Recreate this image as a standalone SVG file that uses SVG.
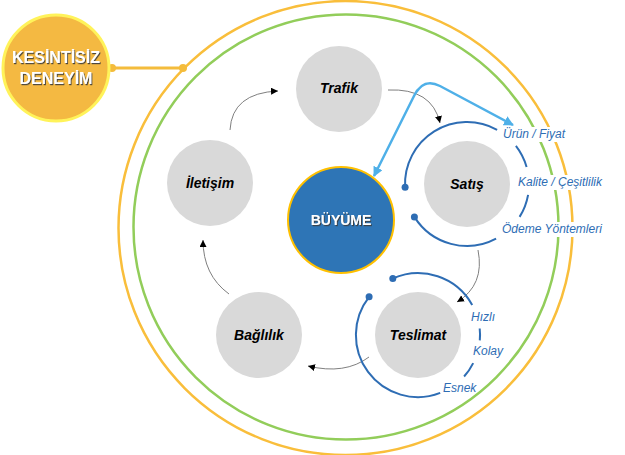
<svg xmlns="http://www.w3.org/2000/svg" width="625" height="455" viewBox="0 0 625 455">
<defs>
<style>
.ring{fill:none;stroke-width:2.5}
.node{fill:#D9D9D9}
.lbl{font-family:"Liberation Sans",Arial,sans-serif;font-weight:bold;font-style:italic;font-size:14px;fill:#000;text-anchor:middle}
.wlbl{font-family:"Liberation Sans",Arial,sans-serif;font-weight:bold;fill:#fff;text-anchor:middle;filter:url(#sh)}
.flow{fill:none;stroke:#7F7F7F;stroke-width:1;marker-end:url(#ah)}
.barc{fill:none;stroke:#2E6DB4;stroke-width:2}
.dot{fill:#2E6DB4}
.bg{fill:#fff}
.blbl{font-family:"Liberation Sans",Arial,sans-serif;font-style:italic;font-size:12px;fill:#2E6DB4}
</style>
<marker id="ah" markerUnits="userSpaceOnUse" markerWidth="9" markerHeight="9" refX="7" refY="3.5" orient="auto">
<path d="M0,0 L7,3.5 L0,7 z" fill="#000"/>
</marker>
<marker id="lb" markerUnits="userSpaceOnUse" markerWidth="12" markerHeight="12" refX="9" refY="5" orient="auto-start-reverse">
<path d="M0,0 L10,5 L0,10 z" fill="#4FB0E8"/>
</marker>
<filter id="sh" x="-20%" y="-40%" width="140%" height="180%">
<feDropShadow dx="1" dy="1.2" stdDeviation="0.6" flood-color="#3a3a3a" flood-opacity="0.9"/>
</filter>
</defs>

<g id="outer-rings">
<circle class="ring" cx="345.5" cy="228" r="227" stroke="#F9BE3B"/>
<circle class="ring" cx="346" cy="227" r="212.5" stroke="#92CD5A"/>
</g>

<g id="connectors">
<line x1="112" y1="68" x2="183" y2="68" stroke="#F4BC3C" stroke-width="3"/>
<circle cx="112" cy="68" r="4" fill="#F4BC3C"/>
<circle cx="183" cy="68" r="4" fill="#F4BC3C"/>
<path class="flow" d="M230,130 Q232,93 278,91"/>
<path class="flow" d="M388,90 Q432,88 440,123"/>
<path class="flow" d="M478,250 Q485,285 457,302"/>
<path class="flow" d="M369,357 Q345,375 308,366"/>
<path class="flow" d="M229,294 Q203,275 203,240"/>
<path d="M374,176 L414,96 C420,84 428,80 440,86 L513,125" fill="none" stroke="#4FB0E8" stroke-width="2.5" marker-start="url(#lb)" marker-end="url(#lb)"/>
</g>

<g id="kesintisiz">
<circle cx="56" cy="68" r="53" fill="#F4B942" stroke="#FFF35A" stroke-width="3"/>
<text class="wlbl" x="56" y="63" font-size="16">KESİNTİSİZ</text>
<text class="wlbl" x="56" y="84" font-size="16">DENEYİM</text>
</g>

<g id="buyume">
<circle cx="341" cy="220" r="53" fill="#2E75B6" stroke="#FFC000" stroke-width="2"/>
<text class="wlbl" x="341" y="225" font-size="14">BÜYÜME</text>
</g>

<g id="trafik">
<circle class="node" cx="339" cy="89" r="43"/>
<text class="lbl" x="339" y="93">Trafik</text>
</g>

<g id="satis">
<circle class="node" cx="467" cy="184" r="43"/>
<text class="lbl" x="467" y="189">Satış</text>
<path class="barc" d="M405.1,187.2 A62,62 0 0 1 497.1,129.8"/>
<path class="barc" d="M515.9,145.8 A62,62 0 0 1 526.6,166.9"/>
<path class="barc" d="M528.1,194.8 A62,62 0 0 1 519.6,216.9"/>
<path class="barc" d="M496.1,238.7 A62,62 0 0 1 414.4,216.9"/>
<circle class="dot" cx="405.1" cy="187.2" r="3.5"/>
<circle class="dot" cx="414.4" cy="216.9" r="3.5"/>
<rect class="bg" x="500" y="127" width="68" height="15"/>
<rect class="bg" x="515" y="175" width="91" height="15"/>
<rect class="bg" x="499" y="222" width="105" height="15"/>
<text class="blbl" x="503" y="138">Ürün / Fiyat</text>
<text class="blbl" x="518" y="186">Kalite / Çeşitlilik</text>
<text class="blbl" x="502" y="233">Ödeme Yöntemleri</text>
</g>

<g id="teslimat">
<circle class="node" cx="418" cy="335" r="43"/>
<text class="lbl" x="418" y="340">Teslimat</text>
<path class="barc" d="M392.8,278.4 A62,62 0 0 1 472.2,304.9"/>
<path class="barc" d="M479.7,328.5 A62,62 0 0 1 479.8,340.4"/>
<path class="barc" d="M473.2,363.1 A62,62 0 0 1 464.1,376.5"/>
<path class="barc" d="M369.1,296.8 A62,62 0 0 0 440.2,392.9"/>
<circle class="dot" cx="392.8" cy="278.4" r="3.5"/>
<circle class="dot" cx="369.1" cy="296.8" r="3.5"/>
<text class="blbl" x="471" y="321">Hızlı</text>
<text class="blbl" x="473" y="355">Kolay</text>
<text class="blbl" x="443" y="392">Esnek</text>
</g>

<g id="baglilik">
<circle class="node" cx="259" cy="335" r="43"/>
<text class="lbl" x="259" y="340">Bağlılık</text>
</g>

<g id="iletisim">
<circle class="node" cx="210" cy="183" r="43"/>
<text class="lbl" x="210" y="188">İletişim</text>
</g>
</svg>
